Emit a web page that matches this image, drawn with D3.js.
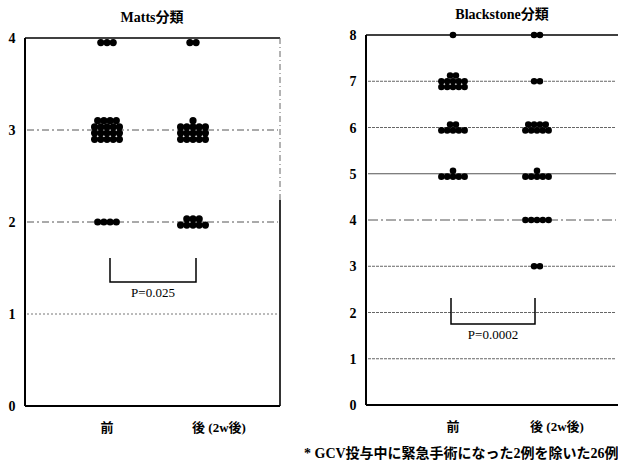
<!DOCTYPE html>
<html><head><meta charset="utf-8">
<script src="https://cdn.jsdelivr.net/npm/d3@7"></script>
<style>
body{margin:0;background:#fff;}
svg{display:block;}
</style></head>
<body>
<script>
// ---- data ----
const groups = ["前", "後 (2w後)"];
const mattsTitle = "Matts分類";
const mattsTicks = [0, 1, 2, 3, 4];
const mattsLevels = [4, 3, 2];
const mattsBefore = [3, 19, 4];
const mattsAfter = [2, 16, 8];
const mattsP = "P=0.025";

const blackTitle = "Blackstone分類";
const blackTicks = [0, 1, 2, 3, 4, 5, 6, 7, 8];
const blackLevels = [8, 7, 6, 5, 4, 3];
const blackBefore = [1, 12, 7, 6, 0, 0];
const blackAfter = [2, 2, 9, 6, 5, 2];
const blackP = "P=0.0002";

const footnote = "* GCV投与中に緊急手術になった2例を除いた26例";

const SERIF = "'Liberation Serif', 'DejaVu Serif', 'Noto Sans CJK JP', serif";
const W = 618, H = 465;
const svg = d3.select("body").append("svg").attr("width", W).attr("height", H);

function panel(cfg) {
  const g = svg.append("g");
  const top = cfg.ticks[cfg.ticks.length - 1];
  const y = d3.scaleLinear().domain([0, top]).range([cfg.bottom, cfg.top]);
  const x = d3.scalePoint().domain(groups).range(cfg.catX);

  // grid lines
  cfg.ticks.forEach(t => {
    if (t === 0 || t === top) return;
    const st = cfg.gridStyle(t);
    g.append("line").attr("x1", cfg.left + 2).attr("x2", cfg.right - 2)
      .attr("y1", y(t)).attr("y2", y(t))
      .attr("stroke", st.c).attr("stroke-width", st.w).attr("stroke-dasharray", st.d);
  });

  // frame
  g.append("line").attr("x1", cfg.left).attr("x2", cfg.right).attr("y1", y(top)).attr("y2", y(top))
    .attr("stroke", "#000").attr("stroke-width", 1.6);
  g.append("line").attr("x1", cfg.left).attr("x2", cfg.right).attr("y1", cfg.bottom).attr("y2", cfg.bottom)
    .attr("stroke", "#000").attr("stroke-width", 1.8);
  g.append("line").attr("x1", cfg.left).attr("x2", cfg.left).attr("y1", cfg.top).attr("y2", cfg.bottom)
    .attr("stroke", "#000").attr("stroke-width", 2);
  if (cfg.rightBorder) {
    g.append("line").attr("x1", cfg.right).attr("x2", cfg.right).attr("y1", cfg.top).attr("y2", 200)
      .attr("stroke", "#666").attr("stroke-width", 1).attr("stroke-dasharray", "6,3,1,3");
    g.append("line").attr("x1", cfg.right).attr("x2", cfg.right).attr("y1", 200).attr("y2", cfg.bottom)
      .attr("stroke", "#000").attr("stroke-width", 1.6);
  }

  // tick labels
  g.selectAll("text.tick").data(cfg.ticks).join("text")
    .attr("x", cfg.left - 13).attr("y", d => y(d) + 5)
    .attr("text-anchor", "middle")
    .style("font-family", SERIF).style("font-weight", "bold").style("font-size", "14px")
    .text(d => d);

  // title
  g.append("text").attr("x", cfg.titleX).attr("y", cfg.titleY)
    .attr("text-anchor", "middle")
    .style("font-family", SERIF).style("font-weight", "bold").style("font-size", "14px")
    .text(cfg.title);

  // category labels
  g.selectAll("text.cat").data(groups).join("text")
    .attr("x", (d, i) => x(d) + (i === 0 ? 0 : cfg.labelShift))
    .attr("y", cfg.bottom + 26).attr("text-anchor", "middle")
    .style("font-family", SERIF).style("font-weight", "bold").style("font-size", "13px")
    .text(d => d);

  // dots
  const s = cfg.spacing, cols = cfg.cols;
  const dots = [];
  [cfg.before, cfg.after].forEach((counts, gi) => {
    counts.forEach((n, li) => {
      if (!n) return;
      const v = cfg.levels[li];
      const rows = Math.ceil(n / cols);
      const shift = (v === top && cfg.hangTop) ? cfg.r + 1 : 0;
      let k = 0;
      for (let r = 0; r < rows; r++) {
        const inRow = Math.min(cols, n - k);
        for (let c = 0; c < inRow; c++) {
          dots.push({
            cx: x(groups[gi]) + (c - (inRow - 1) / 2) * s,
            cy: y(v) + ((rows - 1) / 2 - r) * s + shift
          });
          k++;
        }
      }
    });
  });
  g.selectAll("circle").data(dots).join("circle")
    .attr("cx", d => d.cx).attr("cy", d => d.cy).attr("r", cfg.r).attr("fill", "#000");

  // bracket
  const b = cfg.bracket;
  const x0 = x(groups[0]) + b.dx0, x1 = x(groups[1]) + b.dx1;
  g.append("path").attr("d", `M${x0},${b.y0}V${b.y1}H${x1}V${b.y0}`)
    .attr("fill", "none").attr("stroke", "#000").attr("stroke-width", 1.5);
  g.append("text").attr("x", (x0 + x1) / 2).attr("y", b.y1 + 15)
    .attr("text-anchor", "middle")
    .style("font-family", SERIF).style("font-weight", "normal").style("font-size", "13px")
    .text(cfg.p);
}

panel({
  left: 25, right: 280, top: 38, bottom: 406,
  ticks: mattsTicks, levels: mattsLevels, before: mattsBefore, after: mattsAfter,
  catX: [107, 193], labelShift: 26, titleX: 152, titleY: 22, title: mattsTitle,
  cols: 5, spacing: 6.2, r: 3.6, rightBorder: true, hangTop: true, p: mattsP,
  bracket: { y0: 258, y1: 282, dx0: 3, dx1: 3 },
  gridStyle: t => t === 1 ? { c: "#777", w: 1, d: "2,2" } : { c: "#555", w: 1, d: "7,3,2,3" }
});

panel({
  left: 366, right: 618, top: 35, bottom: 405,
  ticks: blackTicks, levels: blackLevels, before: blackBefore, after: blackAfter,
  catX: [453, 537], labelShift: 20, titleX: 502, titleY: 19, title: blackTitle,
  cols: 5, spacing: 5.8, r: 3.3, rightBorder: false, hangTop: false, p: blackP,
  bracket: { y0: 298, y1: 324, dx0: -2, dx1: -2 },
  gridStyle: t => t === 5 ? { c: "#555", w: 1.2, d: null }
    : t === 4 ? { c: "#555", w: 1, d: "10,3,2,3" }
    : { c: "#666", w: 1, d: "3,1" }
});

svg.append("text").attr("x", 304).attr("y", 458)
  .style("font-family", SERIF).style("font-weight", "bold").style("font-size", "14px")
  .text(footnote);
</script>
</body></html>
